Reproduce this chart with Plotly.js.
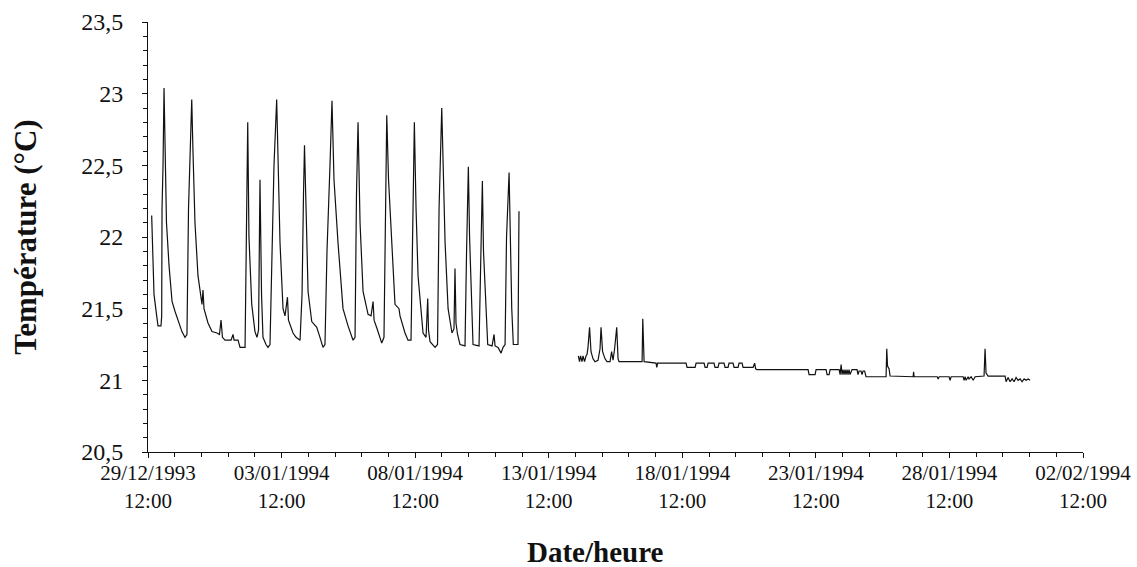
<!DOCTYPE html>
<html>
<head>
<meta charset="utf-8">
<script src="https://cdn.plot.ly/plotly-3.0.1.min.js"></script>
<style>
  html, body { margin: 0; padding: 0; background: #fff; }
  #chart { width: 1137px; height: 567px; }
</style>
</head>
<body>
<div id="chart"></div>
<script>
// Logger start: 29/12/1993 12:00 (elapsed hours are counted from here)
const START_UTC = Date.UTC(1993, 11, 29, 12, 0);

// First recording period (elapsed hours, °C)
const hoursPeriod1 = [3.3,4.0,5.4,7.8,9.0,11.7,12.3,12.6,13.5,14.4,
  15.3,16.6,18.9,21.6,24.3,27.0,30.5,33.2,35.0,36.4,
  38.2,39.3,40.4,42.2,44.9,48.5,49.4,50.3,53.9,57.5,
  62.0,64.2,65.6,66.9,69.2,74.6,76.4,77.3,80.9,82.7,
  87.2,88.5,89.6,90.7,93.2,96.1,97.9,99.3,100.6,102.0,
  103.3,106.0,107.8,109.6,111.4,113.2,115.6,116.8,118.6,121.3,
  123.1,125.3,126.2,130.3,133.0,136.6,138.4,139.7,140.6,142.0,
  143.8,147.1,151.6,154.5,157.2,159.0,160.8,163.5,165.3,167.1,
  170.7,175.2,179.7,184.2,186.0,187.3,188.7,190.5,193.2,197.7,
  200.4,202.2,203.1,205.8,210.0,212.0,213.4,214.5,216.1,219.0,
  221.9,225.5,226.4,230.9,233.6,236.3,237.6,238.6,239.3,240.8,
  242.6,247.1,249.8,251.3,252.0,253.4,257.9,260.1,261.5,263.9,
  265.5,266.9,269.6,273.1,274.9,275.8,276.7,278.1,280.3,284.8,
  286.2,287.8,288.9,290.2,292.0,297.4,298.8,300.4,301.4,302.8,
  305.2,309.1,310.9,311.8,314.5,317.2,319.0,320.8,322.1,324.4,
  325.7,326.8,328.2,332.4,333.3];
const tempPeriod1 = [22.15,21.9,21.6,21.45,21.38,21.38,21.45,22.2,22.5,23.04,
  22.6,22.1,21.8,21.55,21.48,21.42,21.34,21.30,21.32,22.2,
  22.8,22.96,22.6,22.1,21.73,21.53,21.63,21.5,21.40,21.34,
  21.33,21.32,21.42,21.30,21.28,21.28,21.32,21.28,21.28,21.23,
  21.23,22.3,22.80,22.0,21.53,21.34,21.30,21.35,22.40,21.6,
  21.30,21.25,21.23,21.25,21.8,22.5,22.96,22.6,21.96,21.50,
  21.45,21.58,21.42,21.33,21.30,21.28,21.6,22.3,22.64,22.2,
  21.62,21.41,21.37,21.30,21.23,21.25,21.9,22.5,22.95,22.4,
  21.96,21.50,21.38,21.28,21.30,22.3,22.80,22.1,21.62,21.46,
  21.45,21.55,21.42,21.36,21.26,21.3,22.4,22.85,22.4,21.95,
  21.53,21.50,21.45,21.33,21.28,21.28,22.0,22.5,22.80,22.2,
  21.73,21.33,21.30,21.57,21.35,21.27,21.23,21.25,22.2,22.90,
  22.3,21.96,21.50,21.33,21.36,21.78,21.4,21.32,21.25,21.24,
  21.9,22.49,22.0,21.72,21.25,21.24,21.9,22.39,21.9,21.62,
  21.25,21.24,21.32,21.24,21.23,21.19,21.23,21.25,22.0,22.45,
  21.8,21.50,21.25,21.25,22.18];

// Second recording period (elapsed hours, °C)
const hoursPeriod2 = [386.6,387.7,388.6,389.9,390.8,392.2,393.5,394.4,395.3,396.7,
  398.0,399.8,401.6,404.3,406.1,407.0,408.4,410.6,412.4,415.1,
  416.5,417.8,419.2,421.1,422.3,423.2,443.9,444.5,445.7,456.4,
  457.1,457.8,483.4,484.3,491.5,492.4,499.6,500.5,502.3,503.2,
  508.5,509.4,512.1,513.0,517.5,518.4,521.1,522.0,525.6,526.5,
  530.1,531.0,533.7,534.6,543.6,545.0,545.9,547.2,593.0,593.9,
  599.3,600.2,609.2,610.1,611.9,612.8,620.9,621.8,622.7,623.5,
  624.4,625.3,626.2,627.1,628.0,628.9,629.8,630.7,632.5,637.0,
  637.9,638.8,640.6,641.5,642.4,643.8,645.1,663.1,663.7,664.4,
  665.8,666.7,687.4,687.8,688.3,709.0,709.9,710.8,719.7,720.6,
  721.5,732.3,733.2,734.1,735.0,736.8,737.6,739.5,741.3,743.1,
  751.1,752.0,752.9,754.7,770.0,770.9,772.7,774.5,776.3,778.1,
  779.9,781.7,783.5,785.3,787.1,788.9,790.7,792.5];
const tempPeriod2 = [21.17,21.13,21.17,21.13,21.17,21.13,21.17,21.18,21.23,21.37,
  21.20,21.15,21.13,21.14,21.22,21.37,21.20,21.15,21.13,21.13,
  21.20,21.14,21.22,21.37,21.15,21.13,21.13,21.43,21.13,21.12,
  21.09,21.12,21.12,21.09,21.09,21.12,21.12,21.09,21.09,21.12,
  21.12,21.09,21.09,21.12,21.12,21.09,21.09,21.12,21.12,21.09,
  21.09,21.12,21.12,21.09,21.09,21.12,21.08,21.075,21.075,21.04,
  21.04,21.075,21.075,21.04,21.04,21.075,21.075,21.04,21.11,21.04,
  21.075,21.04,21.075,21.04,21.075,21.04,21.075,21.04,21.075,21.075,
  21.04,21.065,21.065,21.04,21.065,21.065,21.025,21.025,21.22,21.10,
  21.08,21.03,21.025,21.06,21.025,21.025,21.01,21.025,21.025,21.0,
  21.025,21.025,21.00,21.025,21.0,21.025,21.01,21.025,21.0,21.025,
  21.03,21.22,21.05,21.03,21.03,20.99,21.02,20.99,21.01,20.99,
  21.02,21.0,21.01,20.99,21.01,21.0,21.01,21.0];

// Axis labels
const tickDates = ['1993-12-29 12:00','1994-01-03 12:00','1994-01-08 12:00','1994-01-13 12:00',
  '1994-01-18 12:00','1994-01-23 12:00','1994-01-28 12:00','1994-02-02 12:00'];
const tickLabels = ['29/12/1993<br>12:00','03/01/1994<br>12:00','08/01/1994<br>12:00','13/01/1994<br>12:00',
  '18/01/1994<br>12:00','23/01/1994<br>12:00','28/01/1994<br>12:00','02/02/1994<br>12:00'];
const xTitle = 'Date/heure';
const yTitle = 'Température (°C)';

// One trace; a null between the two periods leaves the gap in the record
const hoursAll = hoursPeriod1.concat([null], hoursPeriod2);
const tempAll = tempPeriod1.concat([null], tempPeriod2);
const xAll = hoursAll.map(h => h === null ? null : START_UTC + h * 3600000);

const serif = 'Liberation Serif, Times New Roman, serif';

const trace = {
  x: xAll,
  y: tempAll,
  type: 'scatter',
  mode: 'lines',
  connectgaps: false,
  line: { color: '#111', width: 1.2 },
  hoverinfo: 'x+y'
};

const layout = {
  width: 1137,
  height: 567,
  margin: { l: 148, r: 54, t: 22, b: 115 },
  paper_bgcolor: '#fff',
  plot_bgcolor: '#fff',
  separators: ', ',
  showlegend: false,
  font: { family: serif, color: '#111' },
  xaxis: {
    type: 'date',
    range: [tickDates[0], tickDates[tickDates.length - 1]],
    tickmode: 'array',
    tickvals: tickDates,
    ticktext: tickLabels,
    ticks: 'outside',
    ticklen: 5,
    tickcolor: '#111',
    ticklabelstandoff: -3,
    tickfont: { family: serif, size: 21, color: '#111' },
    minor: { dtick: 86400000, tick0: tickDates[0], ticks: 'outside', ticklen: 4, tickcolor: '#111', showgrid: false },
    showline: true,
    linecolor: '#111',
    linewidth: 1,
    showgrid: false,
    zeroline: false
  },
  yaxis: {
    range: [20.5, 23.5],
    dtick: 0.5,
    tick0: 20.5,
    ticks: 'outside',
    ticklen: 5,
    tickcolor: '#111',
    ticklabelstandoff: 14,
    tickfont: { family: serif, size: 24, color: '#111' },
    minor: { dtick: 0.1, ticks: 'outside', ticklen: 4, tickcolor: '#111', showgrid: false },
    showline: true,
    linecolor: '#111',
    linewidth: 1,
    showgrid: false,
    zeroline: false,
    title: { text: '<b>' + yTitle + '</b>', font: { family: serif, size: 31, color: '#111' }, standoff: 35 }
  },
  annotations: [{
    // x-axis title, set slightly left of the plot centre
    text: '<b>' + xTitle + '</b>',
    xref: 'paper', yref: 'paper',
    x: (595 - 148) / 935, y: -(552 - 452) / 430,
    xanchor: 'center', yanchor: 'middle',
    showarrow: false,
    font: { family: serif, size: 29, color: '#111' }
  }]
};

Plotly.newPlot('chart', [trace], layout, { staticPlot: true, displayModeBar: false });
</script>
</body>
</html>
